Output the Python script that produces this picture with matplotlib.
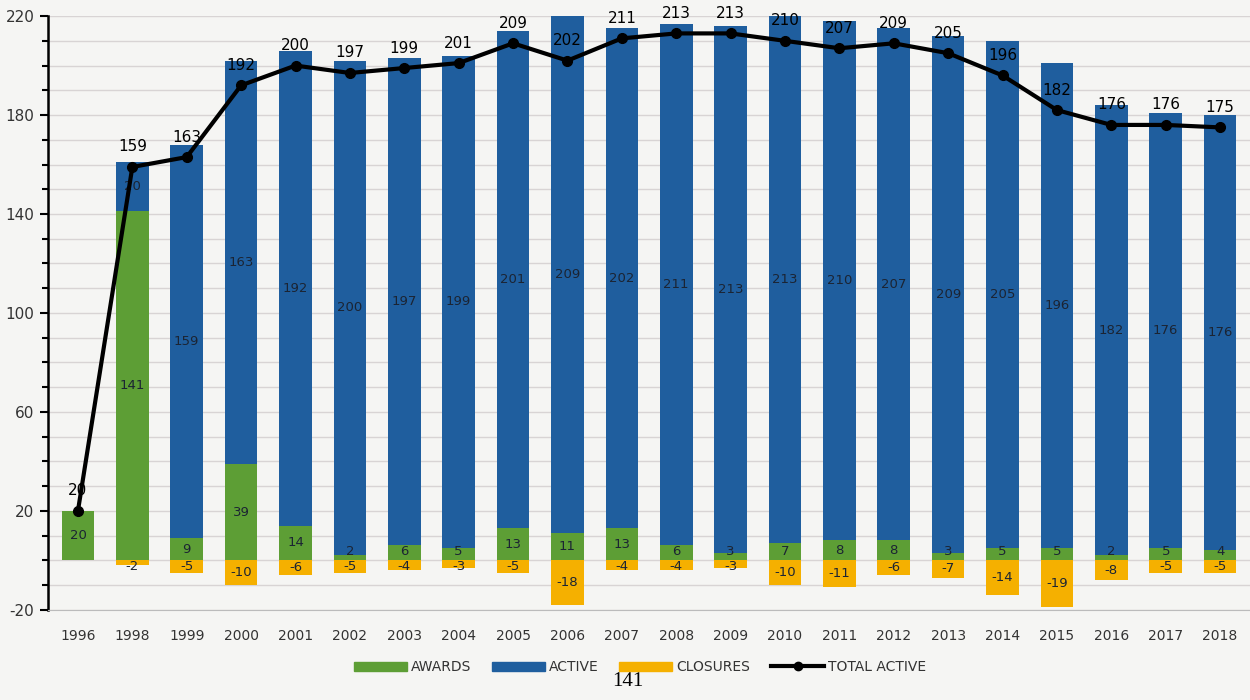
import matplotlib
matplotlib.use("Agg")
import matplotlib.pyplot as plt
import numpy as np
from matplotlib.lines import Line2D
from matplotlib.patches import Patch

years = ["1996", "1998", "1999", "2000", "2001", "2002", "2003", "2004", "2005", "2006", "2007",
         "2008", "2009", "2010", "2011", "2012", "2013", "2014", "2015", "2016", "2017", "2018"]
awards = [20, 141, 9, 39, 14, 2, 6, 5, 13, 11, 13, 6, 3, 7, 8, 8, 3, 5, 5, 2, 5, 4]
active = [0, 20, 159, 163, 192, 200, 197, 199, 201, 209, 202, 211, 213, 213, 210, 207, 209, 205, 196, 182, 176, 176]
closures = [0, -2, -5, -10, -6, -5, -4, -3, -5, -18, -4, -4, -3, -10, -11, -6, -7, -14, -19, -8, -5, -5]
total_active = [20, 159, 163, 192, 200, 197, 199, 201, 209, 202, 211, 213, 213, 210, 207, 209, 205, 196, 182, 176, 176, 175]

GREEN = "#5d9e35"
BLUE = "#1f5e9e"
ORANGE = "#f5b000"
BG = "#f5f5f3"
TXT = "#1b2433"

plt.rcParams["font.family"] = ["Liberation Sans Narrow", "DejaVu Sans"]
plt.rcParams["axes.unicode_minus"] = False

fig = plt.figure(figsize=(12.5, 7), dpi=100, facecolor=BG)
ax = fig.add_axes([0.038, 0.129, 0.962, 0.848], facecolor=BG)

x = np.arange(len(years))
w = 0.6

ax.bar(x, awards, w, color=GREEN, zorder=2)
ax.bar(x, active, w, bottom=awards, color=BLUE, zorder=2)
ax.bar(x, closures, w, color=ORANGE, zorder=2)

# segment labels, nudged apart where the segments are tiny
for xi, a, ac, c in zip(x, awards, active, closures):
    ax.text(xi, max(a / 2, 3.4), str(a), ha="center", va="center", fontsize=9.5, color=TXT, zorder=3)
    if ac:
        ax.text(xi, a + ac / 2, str(ac), ha="center", va="center", fontsize=9.5, color=TXT, zorder=3)
    if c:
        ax.text(xi, min(c / 2, -2.6), str(c), ha="center", va="center", fontsize=9.5, color=TXT, zorder=3)

ax.plot(x, total_active, color="black", lw=3, marker="o", ms=7, zorder=4, clip_on=False)
for xi, v in zip(x, total_active):
    ax.annotate(str(v), (xi, v), xytext=(0, 9), textcoords="offset points",
                ha="center", va="bottom", fontsize=11, color="black", zorder=5)

ax.set_xlim(-0.56, len(years) - 0.45)
ax.set_ylim(-20, 220)
ax.set_yticks(np.arange(-20, 221, 40))
ax.set_yticks(np.arange(-20, 221, 10), minor=True)
ax.yaxis.grid(True, which="both", color="#d8d4d4", lw=1, zorder=0)
ax.set_xticks(x)
ax.set_xticklabels(years)
ax.tick_params(axis="x", length=0, pad=14, labelsize=10, colors="#333333")
ax.tick_params(axis="y", which="major", length=6, width=1.5, labelsize=11, colors="black", labelcolor="#333333")
ax.tick_params(axis="y", which="minor", length=4, width=1.5, colors="black")

for s in ["top", "right"]:
    ax.spines[s].set_visible(False)
ax.spines["left"].set_linewidth(1.8)
ax.spines["bottom"].set_color("#bbbbbb")

handles = [Patch(color=GREEN), Patch(color=BLUE), Patch(color=ORANGE),
           Line2D([], [], color="black", lw=3, marker="o", ms=6)]
fig.legend(handles, ["AWARDS", "ACTIVE", "CLOSURES", "TOTAL ACTIVE"], loc="center",
           bbox_to_anchor=(0.512, 0.047), ncol=4, frameon=False, fontsize=10,
           handlelength=3.8, handleheight=0.6, columnspacing=1.5, handletextpad=0.3,
           labelcolor="#333333")

fig.text(0.502, 0.013, "141", family=["Liberation Serif", "DejaVu Serif"], fontsize=15,
         ha="center", va="bottom", color="black")

fig.savefig("out.png", dpi=100, facecolor=BG)
